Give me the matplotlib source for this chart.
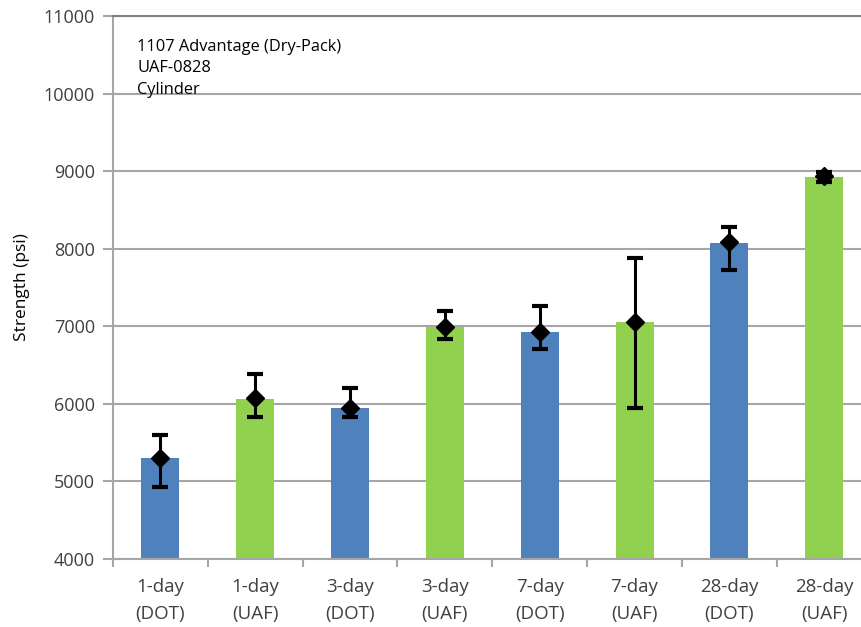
import numpy as np
import matplotlib.pyplot as plt

# data (psi)
labels = ['1-day\n(DOT)', '1-day\n(UAF)', '3-day\n(DOT)', '3-day\n(UAF)',
          '7-day\n(DOT)', '7-day\n(UAF)', '28-day\n(DOT)', '28-day\n(UAF)']
bar_vals = [5305, 6065, 5945, 6990, 6925, 7060, 8080, 8925]
avg_vals = [5300, 6075, 5945, 6990, 6930, 7060, 8090, 8935]
min_vals = [4930, 5830, 5830, 6835, 6710, 5945, 7725, 8865]
max_vals = [5600, 6390, 6200, 7200, 7265, 7885, 8280, 8985]
bar_colors = ['#4F81BD', '#92D050'] * 4

plt.rcParams['font.family'] = ['Open Sans', 'DejaVu Sans']
txt_col = '#404040'
grid_col = '#A6A6A6'

fig = plt.figure(figsize=(8.62, 6.27), dpi=100)
ax = fig.add_axes([113/862, 68/627, 758.6/862, 543/627])

x = np.arange(len(labels))
ax.bar(x, bar_vals, width=0.4, color=bar_colors, zorder=2)

avg = np.array(avg_vals)
yerr = [avg - np.array(min_vals), np.array(max_vals) - avg]
ax.errorbar(x, avg, yerr=yerr, fmt='D', color='black', markersize=9,
            ecolor='black', elinewidth=2.2, capsize=6, capthick=3, zorder=3)

ax.set_ylim(4000, 11000)
ax.set_xlim(-0.5, 7.5)
ax.set_yticks(range(4000, 11001, 1000))
ax.yaxis.grid(True, color=grid_col, linewidth=1.5, zorder=0)
ax.set_axisbelow(True)

ax.set_xticks(x)
ax.set_xticklabels(labels, fontsize=13.5, color=txt_col, linespacing=1.6)
ax.set_xticks(np.arange(-0.5, 7.6, 1), minor=True)
ax.tick_params(axis='x', which='major', length=0, pad=14)
ax.tick_params(axis='x', which='minor', length=6, width=1.5, color=grid_col)
ax.tick_params(axis='y', length=7, width=1.5, color=grid_col, labelsize=13,
               labelcolor=txt_col, pad=6)

ax.spines['right'].set_visible(False)
ax.spines['top'].set_color('#7F7F7F')
ax.spines['top'].set_linewidth(1.5)
for s in ['left', 'bottom']:
    ax.spines[s].set_color(grid_col)
    ax.spines[s].set_linewidth(1.5)

ax.set_ylabel('Strength (psi)', fontsize=12.5, color='black', labelpad=10)

ax.text(0.032, 0.958, '1107 Advantage (Dry-Pack)\nUAF-0828\nCylinder',
        transform=ax.transAxes, fontsize=11.8, va='top', ha='left',
        linespacing=1.45, color='black')

fig.savefig('out.png', dpi=100)
